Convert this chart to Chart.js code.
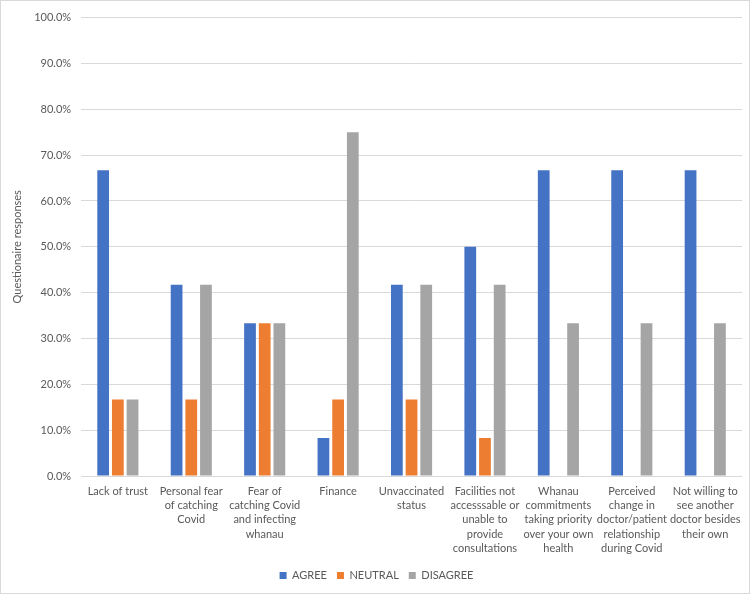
<!DOCTYPE html>
<html>
<head>
<meta charset="utf-8">
<script src="https://cdn.jsdelivr.net/npm/chart.js@4"></script>
<style>
  html, body { margin: 0; padding: 0; background: #fff; }
  #wrap { width: 748px; height: 592px; border: 1px solid #d9d9d9; }
</style>
</head>
<body>
<div id="wrap"><canvas id="myChart" width="748" height="592"></canvas></div>
<script>
const labels = [
    ['Lack of trust'],
    ['Personal fear', 'of catching', 'Covid'],
    ['Fear of', 'catching Covid', 'and infecting', 'whanau'],
    ['Finance'],
    ['Unvaccinated', 'status'],
    ['Facilities not', 'accesssable or', 'unable to', 'provide', 'consultations'],
    ['Whanau', 'commitments', 'taking priority', 'over your own', 'health'],
    ['Perceived', 'change in', 'doctor/patient', 'relationship', 'during Covid'],
    ['Not willing to', 'see another', 'doctor besides', 'their own']
];

const agree = [66.7, 41.7, 33.3, 8.3, 41.7, 50.0, 66.7, 66.7, 66.7];
const neutral = [16.7, 16.7, 33.3, 16.7, 16.7, 8.3, 0, 0, 0];
const disagree = [16.7, 41.7, 33.3, 75.0, 41.7, 41.7, 33.3, 33.3, 33.3];

Chart.defaults.font.family = "Lato, 'Liberation Sans', sans-serif";
Chart.defaults.font.size = 11;
Chart.defaults.color = '#595959';

const data = {
    labels: labels,
    datasets: [{
        label: 'AGREE',
        backgroundColor: '#4472C4',
        data: agree,
    }, {
        label: 'NEUTRAL',
        backgroundColor: '#ED7D31',
        data: neutral,
    }, {
        label: 'DISAGREE',
        backgroundColor: '#A5A5A5',
        data: disagree,
    }]
};

const config = {
    type: 'bar',
    data: data,
    options: {
        responsive: false,
        animation: false,
        layout: { padding: { top: 0, right: 7, left: 10, bottom: 2 } },
        datasets: { bar: { categoryPercentage: 0.6, barPercentage: 0.8 } },
        plugins: {
            legend: {
                position: 'bottom',
                labels: { boxWidth: 7, boxHeight: 7, padding: 10, font: { size: 11 } }
            },
            tooltip: { enabled: false }
        },
        scales: {
            x: {
                grid: { display: false, drawTicks: false },
                border: { color: '#d9d9d9' },
                ticks: { maxRotation: 0, autoSkip: false, padding: 8, font: { size: 11, lineHeight: 1.3 } },
                afterFit: scale => { scale.height = 84; }
            },
            y: {
                min: 0,
                max: 100,
                ticks: {
                    stepSize: 10,
                    padding: 10,
                    callback: v => v.toFixed(1) + '%'
                },
                grid: { color: '#d9d9d9', drawTicks: false },
                border: { display: false },
                title: { display: true, text: 'Questionaire responses', padding: 0, font: { size: 11 } }
            }
        }
    }
};

new Chart(
    document.getElementById('myChart'),
    config
);
</script>
</body>
</html>
